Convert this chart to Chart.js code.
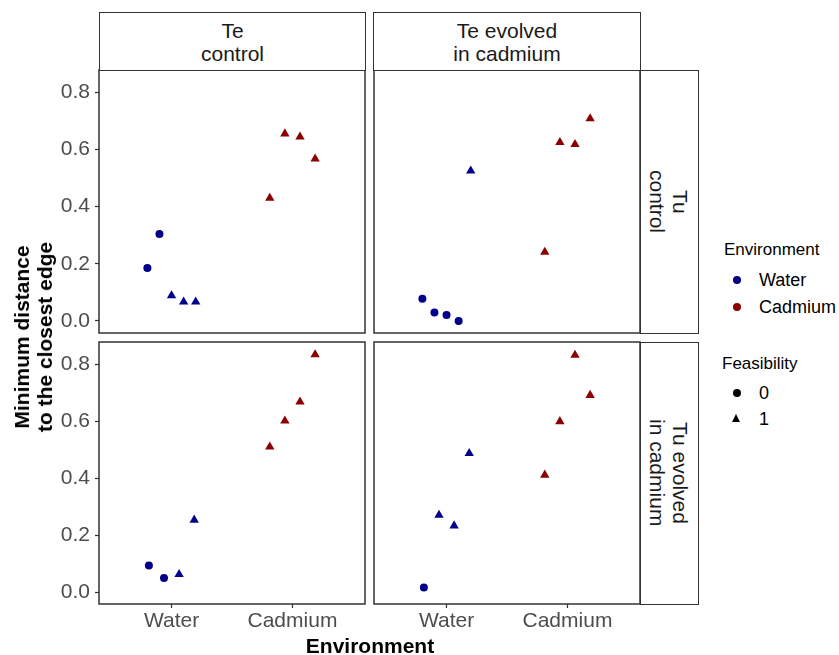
<!DOCTYPE html>
<html><head><meta charset="utf-8">
<script src="https://cdn.jsdelivr.net/npm/chart.js@4.4.0/dist/chart.umd.min.js"></script>
<style>
body{margin:0;width:839px;height:655px;background:#fff;position:relative;overflow:hidden;font-family:"Liberation Sans",Arial,sans-serif;}
canvas{position:absolute;}
.abs{position:absolute;white-space:nowrap;}
.strip{position:absolute;box-sizing:border-box;border:1.5px solid #333;display:flex;align-items:center;justify-content:center;text-align:center;font-size:21px;line-height:23px;color:#1a1a1a;background:#fff;}
.vstrip{writing-mode:vertical-rl;}
.dot{position:absolute;width:8px;height:8px;border-radius:50%;}
.tri{position:absolute;width:0;height:0;border-left:4.6px solid transparent;border-right:4.6px solid transparent;border-bottom:8px solid #000;}
.lg{position:absolute;font-size:18px;color:#000;line-height:20px;white-space:nowrap;}
</style></head><body>
<canvas id="p00" width="367" height="267" style="left:0px;top:68px"></canvas>
<canvas id="p01" width="270" height="267" style="left:372px;top:68px"></canvas>
<canvas id="p10" width="367" height="315" style="left:0px;top:340px"></canvas>
<canvas id="p11" width="270" height="315" style="left:372px;top:340px"></canvas>

<div class="strip" style="left:99px;top:12px;width:267px;height:59px;">Te<br>control</div>
<div class="strip" style="left:373px;top:12px;width:268px;height:59px;">Te evolved<br>in cadmium</div>
<div class="strip vstrip" style="left:639.5px;top:69.5px;width:59px;height:264px;">Tu<br>control</div>
<div class="strip vstrip" style="left:639.5px;top:341.5px;width:59px;height:263px;">Tu evolved<br>in cadmium</div>

<div class="abs" style="left:33px;top:337px;transform:translate(-50%,-50%) rotate(-90deg);font-weight:bold;font-size:21px;line-height:23px;text-align:center;color:#000;">Minimum distance<br>to the closest edge</div>
<div class="abs" style="left:370px;top:646px;transform:translate(-50%,-50%);font-weight:bold;font-size:21px;color:#000;">Environment</div>

<div class="lg" style="left:724px;top:240px;font-size:17px;">Environment</div>
<div class="dot" style="left:733px;top:276px;background:#00008B;"></div>
<div class="lg" style="left:759px;top:270px;">Water</div>
<div class="dot" style="left:733px;top:303px;background:#8B0000;"></div>
<div class="lg" style="left:759px;top:297px;">Cadmium</div>
<div class="lg" style="left:722px;top:354px;font-size:17px;">Feasibility</div>
<div class="dot" style="left:733px;top:389px;background:#000;"></div>
<div class="lg" style="left:759px;top:383px;">0</div>
<div class="tri" style="left:732px;top:414px;"></div>
<div class="lg" style="left:759px;top:409px;">1</div>

<script>
// ---- data ----
const categories = ['Water', 'Cadmium'];
const yTicks = [0.0, 0.2, 0.4, 0.6, 0.8];
const envColors = ['#00008B', '#8B0000'];

// Tu control / Te control
const tuCtrlTeCtrlWater = [0.185, 0.304, 0.089, 0.067, 0.067];
const tuCtrlTeCtrlWaterFeas = [0, 0, 1, 1, 1];
const tuCtrlTeCtrlCadmium = [0.430, 0.655, 0.644, 0.567];
const tuCtrlTeCtrlCadmiumFeas = [1, 1, 1, 1];
// Tu control / Te evolved in cadmium
const tuCtrlTeEvoWater = [0.078, 0.030, 0.021, 0.000, 0.525];
const tuCtrlTeEvoWaterFeas = [0, 0, 0, 0, 1];
const tuCtrlTeEvoCadmium = [0.241, 0.625, 0.618, 0.708];
const tuCtrlTeEvoCadmiumFeas = [1, 1, 1, 1];
// Tu evolved in cadmium / Te control
const tuEvoTeCtrlWater = [0.093, 0.049, 0.062, 0.253];
const tuEvoTeCtrlWaterFeas = [0, 0, 1, 1];
const tuEvoTeCtrlCadmium = [0.510, 0.601, 0.668, 0.834];
const tuEvoTeCtrlCadmiumFeas = [1, 1, 1, 1];
// Tu evolved in cadmium / Te evolved in cadmium
const tuEvoTeEvoWater = [0.016, 0.270, 0.233, 0.487];
const tuEvoTeEvoWaterFeas = [0, 1, 1, 1];
const tuEvoTeEvoCadmium = [0.411, 0.599, 0.832, 0.691];
const tuEvoTeEvoCadmiumFeas = [1, 1, 1, 1];

const dodgeWidth = 0.5;
const FONT = '"Liberation Sans", Arial, sans-serif';

function dodged(catIndex, vals) {
  const n = vals.length;
  return vals.map((v, i) => ({ x: catIndex + 1 - dodgeWidth / 2 + dodgeWidth / (2 * n) + i * dodgeWidth / n, y: v }));
}
function envDataset(catIndex, vals, feas) {
  return {
    label: categories[catIndex],
    data: dodged(catIndex, vals),
    backgroundColor: envColors[catIndex],
    borderColor: envColors[catIndex],
    borderWidth: 0,
    pointStyle: feas.map(f => f ? 'triangle' : 'circle'),
    pointRadius: feas.map(f => f ? 5.4 : 4),
    pointHoverRadius: feas.map(f => f ? 5.4 : 4)
  };
}

const borderPlugin = {
  id: 'panelBorder',
  afterDatasetsDraw(chart) {
    const a = chart.chartArea, ctx = chart.ctx;
    ctx.save();
    ctx.strokeStyle = '#333333';
    ctx.lineWidth = 1.5;
    ctx.strokeRect(a.left, a.top, a.right - a.left, a.bottom - a.top);
    ctx.restore();
  }
};

function zeroPad(s) { s.paddingTop = 0; s.paddingBottom = 0; s.paddingLeft = 0; s.paddingRight = 0; }

function makePanel(id, row, col, wv, wf, cv, cf) {
  const showX = row === 1, showY = col === 0;
  new Chart(document.getElementById(id), {
    type: 'scatter',
    data: { datasets: [envDataset(0, wv, wf), envDataset(1, cv, cf)] },
    options: {
      responsive: false, animation: false, devicePixelRatio: 1,
      layout: { autoPadding: false, padding: { top: 2, right: 2, bottom: showX ? 0 : 2, left: showY ? 0 : 2 } },
      plugins: { legend: { display: false }, tooltip: { enabled: false } },
      scales: {
        x: {
          type: 'linear', min: 0.4, max: 2.6, display: showX,
          afterBuildTicks: s => { s.ticks = categories.map((c, i) => ({ value: i + 1 })); },
          afterFit: s => { s.height = showX ? 51 : 0; zeroPad(s); },
          ticks: { callback: v => categories[Math.round(v) - 1], color: '#4d4d4d', font: { size: 21, family: FONT }, padding: 1, autoSkip: false, maxRotation: 0 },
          grid: { drawOnChartArea: false, tickLength: 4, color: '#333333', tickWidth: 1.2 },
          border: { display: false }
        },
        y: {
          min: -0.042, max: 0.878, display: showY,
          afterBuildTicks: s => { s.ticks = yTicks.map(v => ({ value: v })); },
          afterFit: s => { s.width = showY ? 99 : 0; zeroPad(s); },
          ticks: { callback: v => Number(v).toFixed(1), color: '#4d4d4d', font: { size: 21, family: FONT }, padding: 5 },
          grid: { drawOnChartArea: false, tickLength: 4, color: '#333333', tickWidth: 1.2 },
          border: { display: false }
        }
      }
    },
    plugins: [borderPlugin]
  });
}

makePanel('p00', 0, 0, tuCtrlTeCtrlWater, tuCtrlTeCtrlWaterFeas, tuCtrlTeCtrlCadmium, tuCtrlTeCtrlCadmiumFeas);
makePanel('p01', 0, 1, tuCtrlTeEvoWater, tuCtrlTeEvoWaterFeas, tuCtrlTeEvoCadmium, tuCtrlTeEvoCadmiumFeas);
makePanel('p10', 1, 0, tuEvoTeCtrlWater, tuEvoTeCtrlWaterFeas, tuEvoTeCtrlCadmium, tuEvoTeCtrlCadmiumFeas);
makePanel('p11', 1, 1, tuEvoTeEvoWater, tuEvoTeEvoWaterFeas, tuEvoTeEvoCadmium, tuEvoTeEvoCadmiumFeas);
</script>
</body></html>
